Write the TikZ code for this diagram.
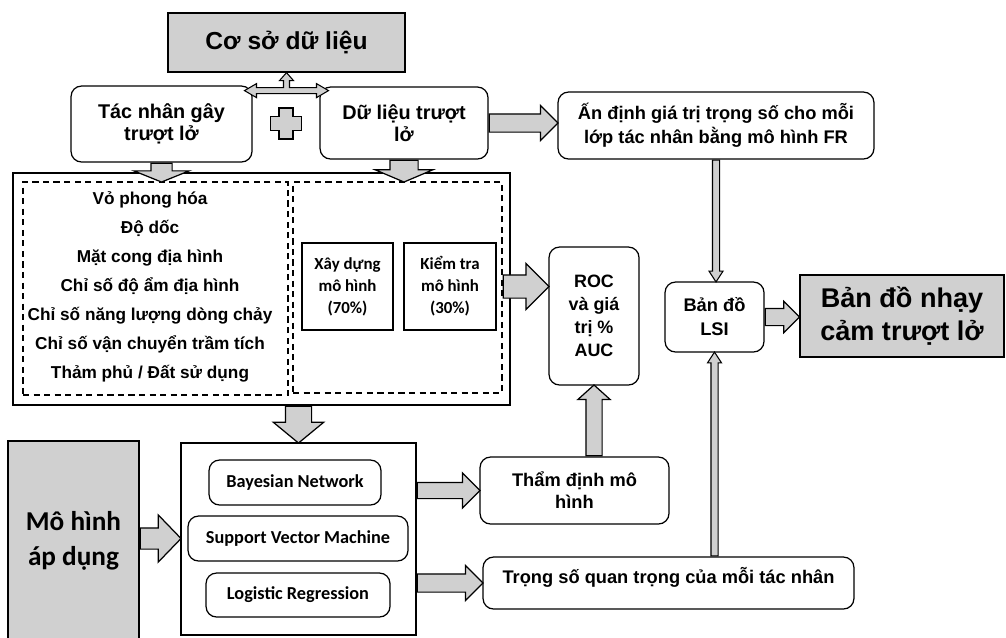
\documentclass[tikz,border=0pt]{standalone}
\usepackage{fontspec}
\setmainfont{Liberation Sans}
\newfontfamily\calibri{Carlito}
\usetikzlibrary{shapes.arrows,calc}
\definecolor{boxgray}{RGB}{208,208,208}

\tikzset{
    box/.style={draw, line width=0.7pt, inner sep=2pt, align=center,
        font=\bfseries\fontsize{10.4}{13.7}\selectfont},
    roundbox/.style={box, rounded corners=6pt},
    graybox/.style={box, fill=boxgray},
    dashbox/.style={draw, line width=0.7pt, dash pattern=on 3.5pt off 2.5pt},
    modelbox/.style={roundbox, font=\calibri\bfseries\fontsize{10.4}{12.5}\selectfont},
    barrow/.style={single arrow, draw, fill=boxgray, line width=0.7pt, inner xsep=0pt, anchor=tail},
}

% block arrow between two points: \blockarrow[options]{(from)}{(to)}
% inner ysep = half shaft, head extend = head beyond shaft
\newcommand{\blockarrow}[3][]{%
    \path let \p1=#2, \p2=#3,
        \n1={veclen(\x2-\x1,\y2-\y1)}, \n2={atan2(\y2-\y1,\x2-\x1)}
    in node[barrow, #1, minimum height=\n1, rotate=\n2] at (\p1) {};}

\begin{document}
\begin{tikzpicture}[x=0.02cm, y=-0.02cm]
\useasboundingbox (0,0) rectangle (1006,637);

% Top row
\node[graybox, minimum width=4.74cm, minimum height=1.18cm,
    font=\bfseries\fontsize{14}{16}\selectfont] (csdl) at (286.5,42.5) {Cơ sở dữ liệu};
\node[roundbox, minimum width=3.62cm, minimum height=1.52cm,
    font=\bfseries\fontsize{11.3}{12.5}\selectfont] (tac) at (161.5,124) {Tác nhân gây\\trượt lở};
\node[roundbox, minimum width=3.36cm, minimum height=1.44cm,
    font=\bfseries\fontsize{11.3}{12.5}\selectfont] (dulieu) at (404,123) {Dữ liệu trượt\\lở};
\node[roundbox, minimum width=6.32cm, minimum height=1.34cm] (andinh) at (716,125.5)
    {Ấn định giá trị trọng số cho mỗi\\lớp tác nhân bằng mô hình FR};

% Data block
\node[draw, line width=0.7pt, minimum width=9.94cm, minimum height=4.64cm] (outer) at (261.5,289) {};
\node[dashbox, minimum width=5.3cm, minimum height=4.26cm] (leftdash) at (155.5,288.5) {};
\node[dashbox, minimum width=4.18cm, minimum height=4.22cm] (rightdash) at (397.5,287.5) {};
\node[align=center, font=\bfseries\fontsize{9.8}{16.5}\selectfont] (factors) at (150,286.5)
    {Vỏ phong hóa\\Độ dốc\\Mặt cong địa hình\\Chỉ số độ ẩm địa hình\\Chỉ số năng lượng dòng chảy\\Chỉ số vận chuyển trầm tích\\Thảm phủ / Đất sử dụng};
\node[box, minimum width=1.82cm, minimum height=1.74cm,
    font=\calibri\bfseries\fontsize{9.6}{12.5}\selectfont] (xaydung) at (347.5,286.5) {Xây dựng\\mô hình\\(70\%)};
\node[box, minimum width=1.84cm, minimum height=1.74cm,
    font=\calibri\bfseries\fontsize{9.6}{12.5}\selectfont] (kiemtra) at (450,286.5) {Kiểm tra\\mô hình\\(30\%)};

% Right column
\node[roundbox, minimum width=1.8cm, minimum height=2.76cm,
    font=\bfseries\fontsize{10.2}{13}\selectfont] (roc) at (594,316) {ROC\\và giá\\trị \%\\AUC};
\node[roundbox, minimum width=1.98cm, minimum height=1.4cm] (lsi) at (714.5,317) {Bản đồ\\LSI};
\node[graybox, line width=1.4pt, minimum width=4.08cm, minimum height=1.64cm,
    font=\bfseries\fontsize{15.4}{18.8}\selectfont] (final) at (902,316) {Bản đồ nhạy\\cảm trượt lở};

% Models
\node[graybox, minimum width=2.62cm, minimum height=4cm,
    font=\calibri\bfseries\fontsize{15.5}{20}\selectfont] (mohinh) at (73.5,541) {Mô hình\\áp dụng};
\node[draw, line width=0.7pt, minimum width=4.7cm, minimum height=3.84cm] (model) at (298.5,539) {};
\node[modelbox, minimum width=3.44cm, minimum height=0.9cm] (bayes) at (295,482.5) {Bayesian Network};
\node[modelbox, minimum width=4.4cm, minimum height=0.9cm] (svm) at (298,538.5) {Support Vector Machine};
\node[modelbox, minimum width=3.68cm, minimum height=0.88cm] (logit) at (298,595) {Logistic Regression};
\node[roundbox, minimum width=3.78cm, minimum height=1.34cm,
    font=\bfseries\fontsize{10.4}{12.5}\selectfont] (thamdinh) at (574.5,490.5) {Thẩm định mô\\hình};
\node[roundbox, minimum width=7.42cm, minimum height=1.04cm, text depth=9pt] (trongso) at (668.5,583)
    {Trọng số quan trọng của mỗi tác nhân};

% Joint arrow and plus sign
\draw[fill=boxgray, line width=0.6pt, shift={(csdl.south)}]
    (0,0) -- (7,8) -- (3,8) -- (3,15) -- (30,15) -- (30,11) -- (42,18) -- (30,25) -- (30,21)
    -- (-30,21) -- (-30,25) -- (-42,18) -- (-30,11) -- (-30,15) -- (-3,15) -- (-3,8) -- (-7,8) -- cycle;
\draw[fill=boxgray, line width=0.7pt, shift={($(tac.east)!0.5!(dulieu.west)$)}]
    (-7,-15.5) -- (7,-15.5) -- (7,-7) -- (15.5,-7) -- (15.5,7) -- (7,7) -- (7,15.5) -- (-7,15.5)
    -- (-7,7) -- (-15.5,7) -- (-15.5,-7) -- (-7,-7) -- cycle;

% Block arrows
\blockarrow[inner ysep=0.2cm, single arrow head extend=0.34cm, single arrow tip angle=136]
    {(tac.south)}{(tac.south |- leftdash.north)}
\blockarrow[inner ysep=0.27cm, single arrow head extend=0.3cm, single arrow tip angle=134]
    {(dulieu.south)}{(dulieu.south |- rightdash.north)}
\blockarrow[inner ysep=0.25cm, single arrow head extend=0.24cm, single arrow tip angle=101]
    {(model.north |- outer.south)}{(model.north)}
\blockarrow[inner ysep=0.2cm, single arrow head extend=0.26cm, single arrow tip angle=92]
    {(mohinh.east |- svm)}{(model.west |- svm)}
\blockarrow[inner ysep=0.22cm, single arrow head extend=0.23cm]
    {(rightdash.east |- kiemtra)}{(roc.west |- kiemtra)}
\blockarrow[inner ysep=0.17cm, single arrow head extend=0.17cm]
    {(dulieu.east)}{(andinh.west |- dulieu.east)}
\blockarrow[inner ysep=0.15cm, single arrow head extend=0.19cm]
    {(model.east |- thamdinh)}{(thamdinh.west)}
\blockarrow[inner ysep=0.17cm, single arrow head extend=0.17cm]
    {(model.east |- trongso)}{(trongso.west)}
\blockarrow[inner ysep=0.15cm, single arrow head extend=0.16cm, single arrow tip angle=96]
    {(roc.south |- thamdinh.north)}{(roc.south)}
\blockarrow[inner ysep=0.16cm, single arrow head extend=0.14cm]
    {(lsi.east)}{(final.west |- lsi.east)}
\blockarrow[inner ysep=0.06cm, single arrow head extend=0.07cm, single arrow tip angle=66, line width=0.6pt]
    {(andinh.south)}{(andinh.south |- lsi.north)}
\blockarrow[inner ysep=0.06cm, single arrow head extend=0.07cm, single arrow tip angle=66, line width=0.6pt]
    {(lsi.south |- trongso.north)}{(lsi.south)}

\end{tikzpicture}
\end{document}
